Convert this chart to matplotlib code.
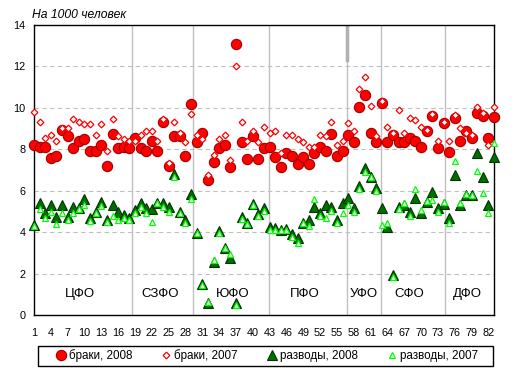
import numpy as np
import matplotlib
matplotlib.use("Agg")
import matplotlib.pyplot as plt
from matplotlib.patches import Rectangle

plt.rcParams['font.family'] = ['Liberation Sans', 'DejaVu Sans']

# marriages and divorces per 1000 people, regions 1..83
brak_2008 = [8.21, 8.13, 8.13, 7.60, 7.70, 8.92, 8.62, 8.05, 8.42, 8.52,
             7.94, 7.92, 8.21, 7.21, 8.73, 8.05, 8.13, 8.05, 8.53, 8.05,
             7.92, 8.40, 7.92, 9.34, 7.21, 8.62, 8.62, 7.68, 10.21, 8.33,
             8.81, 6.52, 7.39, 8.04, 8.21, 7.13, 13.09, 8.33, 7.52, 8.62,
             7.52, 8.04, 8.13, 7.62, 7.13, 7.84, 7.68, 7.29, 7.62, 7.29,
             7.84, 8.13, 7.94, 8.74, 7.68, 7.94, 8.70, 8.33, 10.02, 10.63,
             8.81, 8.33, 10.22, 8.33, 8.70, 8.33, 8.33, 8.53, 8.42, 8.13,
             8.90, 9.61, 8.05, 9.26, 7.86, 9.53, 8.42, 8.90, 8.53, 9.74,
             9.61, 8.53, 9.55]
brak_2007 = [9.82, 9.33, 8.53, 8.71, 8.42, 9.02, 9.02, 9.45, 9.32, 9.23,
             9.23, 8.70, 9.23, 7.94, 9.45, 8.62, 8.52, 8.42, 8.42, 8.70,
             8.90, 8.90, 8.42, 9.45, 7.33, 9.32, 8.81, 8.33, 9.71, 8.70,
             8.52, 6.75, 7.71, 8.52, 8.70, 7.49, 12.03, 9.32, 8.42, 8.90,
             8.33, 9.10, 8.81, 8.90, 7.81, 8.70, 8.70, 8.52, 8.33, 8.13,
             8.13, 8.70, 8.62, 9.32, 8.21, 8.42, 9.25, 8.90, 10.93, 11.51,
             10.10, 8.62, 10.31, 9.10, 8.81, 9.90, 8.81, 9.53, 9.42, 9.10,
             8.94, 9.71, 8.42, 9.34, 8.42, 9.66, 9.02, 8.81, 8.70, 10.03,
             9.74, 8.21, 10.02]
razv_2008 = [4.33, 5.39, 4.91, 5.31, 4.75, 5.31, 4.75, 5.23, 5.15, 5.59,
             4.67, 4.99, 5.47, 4.59, 5.31, 4.99, 4.83, 4.67, 5.07, 5.39,
             5.15, 5.11, 5.39, 5.39, 5.23, 6.81, 4.99, 4.59, 5.82, 3.98,
             1.50, 0.60, 2.58, 4.06, 3.25, 2.74, 0.56, 4.72, 4.46, 5.36,
             4.88, 5.15, 4.27, 4.19, 4.11, 4.14, 3.91, 3.70, 4.46, 4.59,
             5.23, 4.91, 5.31, 5.23, 4.59, 5.41, 5.64, 5.15, 6.23, 7.09,
             6.64, 6.12, 5.15, 4.24, 1.93, 5.20, 5.30, 4.99, 5.64, 4.91,
             5.47, 5.96, 5.15, 5.35, 4.67, 6.76, 5.31, 5.80, 5.80, 7.81,
             6.68, 5.31, 7.62]
razv_2007 = [4.30, 5.11, 4.67, 4.99, 4.40, 4.94, 4.59, 4.94, 5.11, 5.31,
             4.56, 4.91, 5.27, 4.51, 4.78, 4.59, 4.67, 4.59, 4.91, 5.20,
             4.94, 4.48, 5.39, 5.20, 4.99, 6.68, 4.91, 4.46, 5.59, 3.95,
             1.45, 0.62, 2.66, 3.98, 3.22, 2.95, 0.50, 4.62, 4.40, 5.31,
             4.78, 5.04, 4.11, 4.11, 4.10, 4.11, 3.78, 3.49, 4.46, 4.30,
             5.59, 4.78, 4.67, 5.04, 4.46, 4.91, 5.31, 4.99, 6.07, 6.90,
             6.68, 6.00, 4.35, 4.46, 1.85, 5.10, 5.39, 4.78, 6.07, 5.07,
             5.50, 5.56, 4.99, 5.47, 4.43, 7.45, 5.39, 5.85, 5.80, 6.97,
             5.88, 4.91, 8.29]

districts = ['ЦФО', 'СЗФО', 'ЮФО', 'ПФО', 'УФО', 'СФО', 'ДФО']
district_x = [9.2, 23.5, 36.4, 49.3, 59.8, 67.9, 78.3]
borders = [18.4, 29.4, 42.9, 56.85, 62.85, 74.3]
x_ticks = list(range(1, 83, 3))

x = np.arange(1, len(brak_2008) + 1)

fig = plt.figure(figsize=(5.2, 3.76), dpi=100)
ax = fig.add_axes([34 / 520, 1 - 315 / 376, 460 / 520, 290 / 376])

for b in borders:
    ax.axvline(b, color='#c0c0c0', lw=1, zorder=1)
# small darker stub at the top of the УФО border, as in the original
ax.plot([borders[3], borders[3]], [14, 12.3], color='#b0b0b0', lw=2.5, zorder=1)
for yv in range(2, 14, 2):
    ax.axhline(yv, color='#c0c0c0', lw=0.8, ls=(0, (4, 3)), zorder=1)

ax.plot(x, brak_2008, ls='none', marker='o', ms=7.4, mfc='#ff0000', mec='#a00000',
        mew=0.8, label='браки, 2008', zorder=3, clip_on=False)
ax.plot(x, brak_2007, ls='none', marker='D', ms=3.4, mfc='white', mec='#ff0000',
        mew=0.9, label='браки, 2007', zorder=4, clip_on=False)
ax.plot(x, razv_2008, ls='none', marker='^', ms=7.8, mfc='#006f00', mec='#003300',
        mew=0.8, label='разводы, 2008', zorder=5, clip_on=False)
ax.plot(x, razv_2007, ls='none', marker='^', ms=4.6, mfc='white', mec='#00ff00',
        mew=0.9, label='разводы, 2007', zorder=6, clip_on=False)

for name, xd in zip(districts, district_x):
    ax.text(xd, 1.0, name, ha='center', va='center', fontsize=9.5)

ax.set_xlim(1, 83)
ax.set_ylim(0, 14)
ax.set_xticks(x_ticks)
ax.set_yticks(range(0, 15, 2))
ax.tick_params(length=0, labelsize=7.8, pad=6)
ax.tick_params(axis='x', pad=9)
for s in ax.spines.values():
    s.set_color('black')
    s.set_linewidth(1)
    s.set_zorder(2)

fig.text(32 / 520, 1 - 15 / 376, 'На 1000 человек', fontsize=8.7, style='italic',
         ha='left', va='center')

fig.legend(loc='center', bbox_to_anchor=(267 / 520, 1 - 356 / 376), ncol=4,
           fontsize=8.4, frameon=False, handlelength=0.8, handletextpad=0.3,
           columnspacing=2.5, borderpad=0, borderaxespad=0)
fig.patches.append(Rectangle((38 / 520, 1 - 366 / 376), 455 / 520, 20 / 376,
                             transform=fig.transFigure, fill=False,
                             edgecolor='black', lw=1))

fig.savefig('out.png', dpi=100)
